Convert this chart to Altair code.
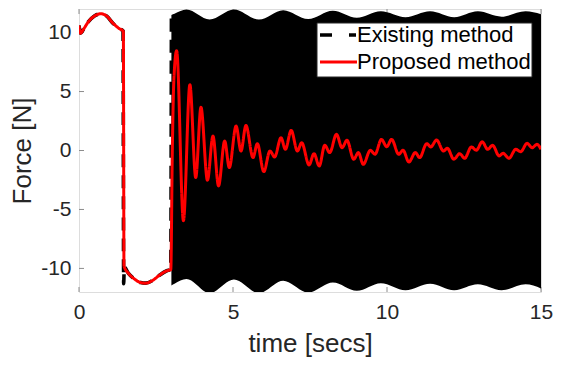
import altair as alt
import pandas as pd

# ---------------- data ----------------
x_ticks = [0, 5, 10, 15]
y_ticks = [-10, -5, 0, 5, 10]
legend_labels = ["Existing method", "Proposed method"]

# Proposed method (red)
red_t = [0, 0.05, 0.15, 0.3, 0.5, 0.72, 0.9, 1.1, 1.3, 1.44, 1.46, 1.6, 1.8, 2.0, 2.16,
         2.4, 2.6, 2.85, 2.98, 3.03, 3.08, 3.17, 3.39, 3.60, 3.79, 3.96, 4.17, 4.35, 4.53,
         4.73, 4.88, 5.10, 5.26, 5.42, 5.65, 5.79, 6.0, 6.2, 6.35, 6.56, 6.70, 6.89, 7.09,
         7.23, 7.47, 7.63, 7.80, 7.98, 8.14, 8.36, 8.54, 8.70, 8.92, 9.07, 9.23, 9.46, 9.61,
         9.82, 9.99, 10.15, 10.38, 10.52, 10.71, 10.92, 11.06, 11.29, 11.42, 11.61, 11.83,
         11.96, 12.17, 12.36, 12.52, 12.74, 12.9, 13.09, 13.27, 13.43, 13.64, 13.77, 13.96,
         14.18, 14.34, 14.55, 14.71, 14.87, 15.0]
red_f = [10.6, 9.95, 10.3, 10.9, 11.4, 11.6, 11.4, 10.8, 10.35, 10.1, -9.8, -10.4, -10.9,
         -11.2, -11.25, -11.0, -10.6, -10.2, -10.1, 0.0, 6.0, 8.46, -5.95, 5.58, -2.29, 3.67,
         -2.52, 1.22, -3.0, 0.8, -1.45, 2.07, -0.04, 2.12, -0.6, 0.58, -1.79, -0.04, -0.55,
         1.08, 0.1, 1.7, -0.04, 0.66, -1.22, -0.27, -1.31, 0.44, -0.18, 1.37, 0.24, 0.86,
         -0.74, -0.18, -1.17, 0.02, -0.32, 0.94, 0.32, 0.94, -0.32, 0.02, -0.97, -0.18, -0.6,
         0.58, 0.3, 0.89, -0.04, 0.19, -0.74, -0.27, -0.66, 0.3, 0.02, 0.74, 0.1, 0.44,
         -0.46, -0.24, -0.66, 0.1, -0.1, 0.61, 0.24, 0.52, 0.1]

# Existing method (black dashed) before the chattering starts
exist_t = [0, 0.05, 0.15, 0.3, 0.5, 0.72, 0.9, 1.1, 1.3, 1.43, 1.45, 1.47, 1.6, 1.8, 2.0,
           2.16, 2.4, 2.6, 2.85, 2.98, 3.0]
exist_f = [10.6, 9.95, 10.3, 10.9, 11.4, 11.6, 11.4, 10.8, 10.35, 10.15, -11.3, -9.9, -10.4,
           -10.9, -11.2, -11.25, -11.0, -10.6, -10.2, -10.1, 11.5]

# Existing method: envelope of the dense chattering band (t >= 3)
env_t = [3.0, 3.1, 3.49, 4.24, 5.03, 5.84, 6.63, 7.44, 8.24, 9.02, 9.8, 10.6, 11.4, 12.18,
         12.95, 13.72, 14.5, 15.0]
env_upper = [11.5, 11.6, 11.95, 11.1, 11.95, 11.1, 11.9, 11.15, 11.85, 11.25, 11.8, 11.3,
             11.8, 11.3, 11.8, 11.35, 11.8, 11.55]
env_lower = [-11.45, -11.3, -10.9, -12.1, -10.95, -12.1, -11.05, -12.05, -11.2, -11.9,
             -11.25, -11.85, -11.3, -11.85, -11.35, -11.85, -11.35, -11.7]

# ---------------- styling ----------------
FONT = "Liberation Sans, Arial, sans-serif"
TXT = "#262626"
W, H = 462, 283

lines_df = pd.DataFrame({
    "t": exist_t + red_t,
    "f": exist_f + red_f,
    "method": [legend_labels[0]] * len(exist_t) + [legend_labels[1]] * len(red_t),
})
env_df = pd.DataFrame({"t": env_t, "f": env_upper, "f2": env_lower})

x_axis = alt.Axis(values=x_ticks, tickSize=0, domain=False, grid=False, labelFontSize=21,
                  labelPadding=9, titleFontSize=26, titlePadding=8, labelColor=TXT,
                  titleColor=TXT, labelFont=FONT, titleFont=FONT, titleFontWeight="normal",
                  labelFlush=False)
y_axis = alt.Axis(values=y_ticks, tickSize=0, domain=False, grid=False, labelFontSize=21,
                  labelPadding=8, titleFontSize=26, titlePadding=5, labelColor=TXT,
                  titleColor=TXT, labelFont=FONT, titleFont=FONT, titleFontWeight="normal",
                  labelExpr="'' + datum.value", labelFlush=False)


def X():
    return alt.X("t:Q", scale=alt.Scale(domain=[0, 15], nice=False, zero=False),
                 axis=x_axis, title="time [secs]")


def Y(field="f"):
    return alt.Y(f"{field}:Q", scale=alt.Scale(domain=[-12, 12], nice=False, zero=False),
                 axis=y_axis, title="Force [N]")


tick_len = 5
TICK = "#8c8c8c"
xt_df = pd.DataFrame({"t": x_ticks})
yt_df = pd.DataFrame({"f": y_ticks})

bottom_ticks = alt.Chart(xt_df).mark_rule(color=TICK, strokeWidth=1).encode(
    x=X(), y=alt.value(H), y2=alt.value(H - tick_len))
top_ticks = alt.Chart(xt_df).mark_rule(color=TICK, strokeWidth=1).encode(
    x=X(), y=alt.value(0), y2=alt.value(tick_len))
left_ticks = alt.Chart(yt_df).mark_rule(color=TICK, strokeWidth=1).encode(
    y=Y(), x=alt.value(0), x2=alt.value(tick_len))
right_ticks = alt.Chart(yt_df).mark_rule(color=TICK, strokeWidth=1).encode(
    y=Y(), x=alt.value(W), x2=alt.value(W - tick_len))

band = alt.Chart(env_df).mark_area(color="black", interpolate="monotone", clip=True,
                                   opacity=1).encode(
    x=X(), y=Y(), y2="f2:Q")

lines = alt.Chart(lines_df).mark_line(interpolate="monotone", clip=True).encode(
    x=X(), y=Y(),
    color=alt.Color("method:N", scale=alt.Scale(domain=legend_labels, range=["black", "#ff0000"]),
                    legend=None),
    strokeDash=alt.StrokeDash("method:N", scale=alt.Scale(domain=legend_labels,
                                                          range=[[13, 8], [1, 0]]),
                              legend=None),
    strokeWidth=alt.StrokeWidth("method:N", scale=alt.Scale(domain=legend_labels,
                                                            range=[3.6, 3.0]),
                                legend=None),
)

# ---------------- manual legend ----------------
LX1 = W - 9
LX0 = LX1 - 215
LY0, LY1 = 14, 68
row_y = [26, 53]
one = alt.Data(values=[{"a": 1}])
legend_box = alt.Chart(one).mark_rect(fill="white", stroke="#262626", strokeWidth=1).encode(
    x=alt.value(LX0), x2=alt.value(LX1), y=alt.value(LY0), y2=alt.value(LY1))
leg_dash = alt.Chart(one).mark_rule(color="black", strokeWidth=3.6, strokeDash=[12, 17]).encode(
    x=alt.value(LX0 + 3), x2=alt.value(LX0 + 39), y=alt.value(row_y[0]))
leg_red = alt.Chart(one).mark_rule(color="#ff0000", strokeWidth=3.0).encode(
    x=alt.value(LX0 + 3), x2=alt.value(LX0 + 40), y=alt.value(row_y[1]))
leg_txt = []
for lab, yy in zip(legend_labels, row_y):
    leg_txt.append(
        alt.Chart(alt.Data(values=[{"label": lab}])).mark_text(
            align="left", baseline="middle", font=FONT, fontSize=22, color="black").encode(
            x=alt.value(LX0 + 40), y=alt.value(yy), text="label:N"))

chart = alt.layer(
    bottom_ticks, top_ticks, left_ticks, right_ticks, band, lines,
    legend_box, leg_dash, leg_red, *leg_txt
).properties(
    width=W, height=H,
    autosize=alt.AutoSizeParams(type="none"),
    padding={"left": 71, "top": 1, "right": 12, "bottom": 66},
).configure_view(stroke="#8c8c8c", strokeWidth=1).configure(background="white")

chart.save("out.html", embed_options={"renderer": "svg", "actions": False})
